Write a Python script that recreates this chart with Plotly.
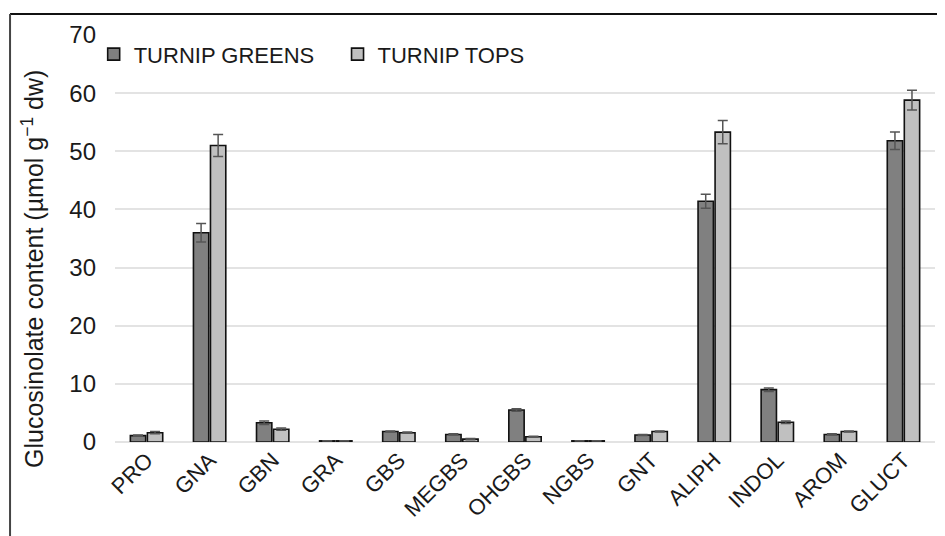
import plotly.graph_objects as go

categories = ["PRO", "GNA", "GBN", "GRA", "GBS", "MEGBS", "OHGBS", "NGBS", "GNT", "ALIPH", "INDOL", "AROM", "GLUCT"]
greens = [1.1, 36.0, 3.3, 0.2, 1.8, 1.3, 5.5, 0.2, 1.2, 41.4, 9.0, 1.3, 51.8]
greens_err = [0.1, 1.6, 0.3, 0.02, 0.1, 0.1, 0.2, 0.02, 0.1, 1.2, 0.3, 0.1, 1.5]
tops = [1.6, 51.0, 2.2, 0.2, 1.6, 0.5, 0.9, 0.2, 1.8, 53.3, 3.4, 1.8, 58.8]
tops_err = [0.2, 1.9, 0.2, 0.02, 0.1, 0.1, 0.1, 0.02, 0.1, 2.0, 0.2, 0.1, 1.7]
yticks = [0, 10, 20, 30, 40, 50, 60, 70]
series_names = ["TURNIP GREENS", "TURNIP TOPS"]
y_title = "Glucosinolate content (µmol g<sup>−1</sup> dw)"

font = "Liberation Sans, Arial, sans-serif"
txt = "#1a1a1a"
pad = "\u00a0" * 3

fig = go.Figure()
fig.add_trace(go.Bar(
    x=categories, y=greens, name=series_names[0] + pad,
    marker=dict(color="#808080", line=dict(color="#111111", width=1.6)),
    error_y=dict(type="data", array=greens_err, color="#555555", thickness=1.5, width=5),
))
fig.add_trace(go.Bar(
    x=categories, y=tops, name=series_names[1],
    marker=dict(color="#c0c0c0", line=dict(color="#111111", width=1.6)),
    error_y=dict(type="data", array=tops_err, color="#555555", thickness=1.5, width=5),
))

fig.update_layout(
    width=937, height=528,
    margin=dict(l=107, r=10, t=27, b=94),
    paper_bgcolor="white", plot_bgcolor="white",
    barmode="group", bargap=0.46, bargroupgap=0.1,
    font=dict(family=font, size=22, color=txt),
    legend=dict(orientation="h", x=-0.026, y=1.004, xanchor="left", yanchor="top",
                font=dict(size=22, color=txt), bgcolor="rgba(0,0,0,0)",
                itemwidth=30, tracegroupgap=0),
    showlegend=True,
)
fig.update_xaxes(
    tickangle=-45, showgrid=False, showline=False, ticks="",
    tickfont=dict(size=22, color=txt),
)
fig.update_yaxes(
    range=[0, 70], tickvals=yticks, showgrid=True, gridcolor="#e3e3e3", gridwidth=2,
    zeroline=True, zerolinecolor="#e3e3e3", zerolinewidth=2, showline=False, ticks="",
    tickfont=dict(size=24, color=txt), ticklabelstandoff=18,
)
fig.add_annotation(
    text=y_title, textangle=-90, xref="paper", yref="paper", x=-0.1, y=0.425,
    xanchor="center", yanchor="middle", showarrow=False,
    font=dict(size=25, color=txt, family=font),
)
# outer frame (top and left edges)
fig.add_shape(type="line", xref="paper", yref="paper", x0=-0.128, x1=1.02, y0=1.0516, y1=1.0516,
              line=dict(color="#111111", width=2))
fig.add_shape(type="line", xref="paper", yref="paper", x0=-0.128, x1=-0.128, y0=-0.24, y1=1.0516,
              line=dict(color="#444444", width=2))

fig.write_html("out.html")
